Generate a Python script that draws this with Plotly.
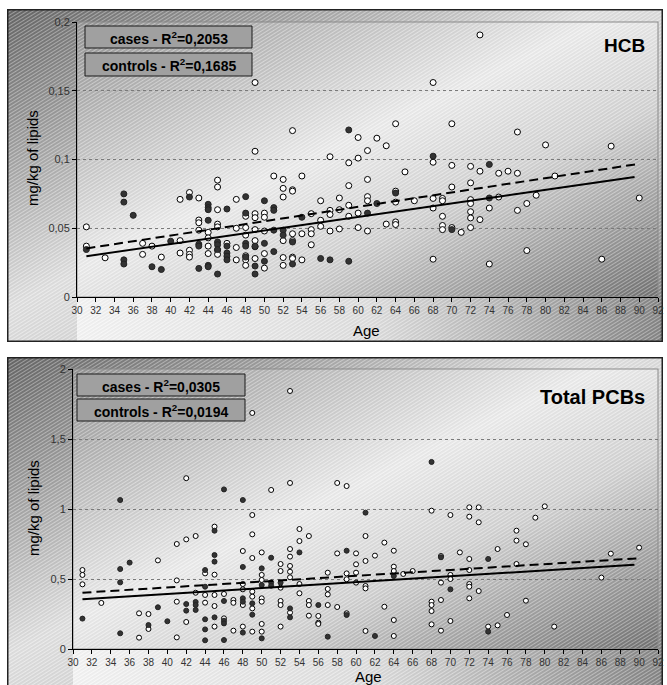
import base64
import plotly.graph_objects as go

# ---------------- data ----------------
ages_tick = list(range(30, 93, 2))

hcb_controls_age = [31, 31, 33, 37, 37, 38, 39, 41, 41, 41, 42, 42, 42, 42, 43, 43, 43, 43,
                    44, 44, 44, 44, 45, 45, 45, 45, 45, 45, 45, 46, 47, 47, 47, 47,
                    48, 48, 48, 48, 48, 48, 49, 49, 49, 49, 49, 49, 49, 49, 50, 50, 50, 50, 50,
                    51, 52, 52, 52, 52, 52, 52, 53, 53, 53, 53, 53, 53, 53, 54, 54, 54,
                    55, 55, 55, 55, 56, 56, 56, 57, 57, 57, 57, 58, 58, 58, 59, 59, 59, 59,
                    60, 60, 60, 60, 61, 61, 61, 61, 61, 62, 63, 63, 64, 64, 64, 64, 64, 65, 66,
                    68, 68, 68, 68, 68, 69, 69, 69, 69, 69, 70, 70, 70, 70, 71,
                    72, 72, 72, 72, 72, 72, 72, 73, 73, 73, 74, 74, 75, 75, 76, 77, 77, 77,
                    78, 78, 79, 80, 81, 86, 87, 90]
hcb_controls_val = [0.051, 0.037, 0.0285, 0.039, 0.031, 0.037, 0.029, 0.071, 0.041, 0.032,
                    0.076, 0.034, 0.031, 0.029, 0.072, 0.056, 0.054, 0.0486,
                    0.047, 0.043, 0.037, 0.0316, 0.085, 0.080, 0.0635, 0.053, 0.051, 0.034, 0.031,
                    0.039, 0.071, 0.050, 0.036, 0.027,
                    0.0587, 0.0505, 0.045, 0.030, 0.027, 0.023,
                    0.156, 0.106, 0.0606, 0.0577, 0.049, 0.041, 0.0365, 0.028,
                    0.061, 0.058, 0.048, 0.0316, 0.021,
                    0.088, 0.0855, 0.079, 0.0727, 0.041, 0.0287, 0.023,
                    0.121, 0.078, 0.077, 0.046, 0.041, 0.029, 0.028, 0.088, 0.046, 0.027,
                    0.0606, 0.049, 0.046, 0.038, 0.070, 0.0558, 0.0514, 0.102, 0.063, 0.060, 0.048,
                    0.072, 0.0635, 0.0495, 0.0976, 0.081, 0.0667, 0.0587,
                    0.116, 0.101, 0.061, 0.0505, 0.1065, 0.0855, 0.073, 0.070, 0.048,
                    0.1155, 0.110, 0.053, 0.126, 0.077, 0.069, 0.0546, 0.0527, 0.091, 0.070,
                    0.156, 0.098, 0.0717, 0.0647, 0.0275, 0.0717, 0.070, 0.0587, 0.052, 0.049,
                    0.126, 0.0957, 0.080, 0.0505, 0.047,
                    0.095, 0.083, 0.0708, 0.068, 0.062, 0.0575, 0.0505, 0.1906, 0.0915, 0.0563,
                    0.0647, 0.024, 0.090, 0.0727, 0.0915, 0.120, 0.090, 0.063,
                    0.068, 0.0338, 0.074, 0.1106, 0.088, 0.0275, 0.1097, 0.072]

hcb_cases_age = [31, 35, 35, 35, 35, 36, 38, 39, 40, 42, 43, 43, 43,
                 44, 44, 44, 44, 44, 44, 45, 45, 45, 45, 46, 46, 46, 46, 46,
                 48, 48, 48, 48, 48, 49, 49, 49, 50, 50, 50, 51, 51, 51, 51, 52, 52,
                 53, 53, 54, 56, 57, 59, 59, 61, 62, 64, 68, 70, 74, 74]
hcb_cases_val = [0.0345, 0.075, 0.069, 0.027, 0.024, 0.0594, 0.022, 0.020, 0.0406, 0.0727,
                 0.0384, 0.037, 0.0208, 0.0674, 0.065, 0.0635, 0.0558, 0.023, 0.022,
                 0.040, 0.038, 0.0345, 0.0167, 0.064, 0.037, 0.032, 0.0297, 0.027,
                 0.073, 0.061, 0.039, 0.037, 0.029, 0.037, 0.0225, 0.0167, 0.070, 0.039, 0.026,
                 0.065, 0.063, 0.0486, 0.033, 0.0486, 0.045, 0.040, 0.024, 0.058, 0.028, 0.027,
                 0.1215, 0.026, 0.061, 0.068, 0.0756, 0.1024, 0.049, 0.0964, 0.072]

pcb_controls_age = [31, 31, 31, 33, 37, 37, 38, 38, 39, 41, 41, 41, 41, 42, 42, 42, 43, 43,
                    44, 44, 44, 45, 45, 45, 45, 45, 46, 46, 47, 47, 47, 48, 48, 48, 48, 48,
                    49, 49, 49, 49, 49, 49, 49, 49, 50, 50, 50, 50, 50, 50, 50, 51,
                    52, 52, 52, 52, 52, 52, 53, 53, 53, 53, 53, 53, 53, 53, 54, 54, 54, 54,
                    55, 55, 55, 55, 56, 56, 56, 57, 57, 57, 57, 58, 58, 58, 59, 59, 59, 59,
                    60, 60, 60, 60, 61, 61, 61, 61, 61, 62, 63, 63, 64, 64, 64, 64, 64, 65, 66,
                    68, 68, 68, 68, 68, 69, 69, 69, 69, 70, 70, 70, 70, 71,
                    72, 72, 72, 72, 72, 72, 72, 73, 73, 73, 74, 75, 75, 76, 77, 77, 77,
                    78, 78, 79, 80, 81, 86, 87, 90]
pcb_controls_val = [0.564, 0.529, 0.462, 0.329, 0.255, 0.081, 0.25, 0.143, 0.633,
                    0.75, 0.49, 0.338, 0.083, 1.22, 0.783, 0.193, 0.807, 0.402,
                    0.54, 0.386, 0.331, 0.874, 0.531, 0.386, 0.307, 0.160, 0.393, 0.219,
                    0.35, 0.33, 0.131, 0.70, 0.464, 0.426, 0.314, 0.16,
                    1.686, 0.957, 0.819, 0.65, 0.41, 0.374, 0.29, 0.124,
                    0.69, 0.529, 0.493, 0.362, 0.338, 0.179, 0.124, 1.136,
                    0.607, 0.557, 0.438, 0.343, 0.314, 0.16,
                    1.843, 1.186, 0.714, 0.66, 0.593, 0.552, 0.512, 0.26,
                    0.857, 0.771, 0.464, 0.398, 0.807, 0.343, 0.314, 0.238,
                    0.236, 0.188, 0.179, 0.545, 0.429, 0.39, 0.314, 1.186, 0.683, 0.30,
                    1.164, 0.54, 0.498, 0.255, 0.683, 0.605, 0.545, 0.474,
                    0.807, 0.629, 0.45, 0.433, 0.129, 0.667, 0.76, 0.302,
                    0.702, 0.588, 0.557, 0.207, 0.093, 0.536, 0.557,
                    0.988, 0.338, 0.314, 0.271, 0.176, 0.664, 0.474, 0.35, 0.131,
                    0.957, 0.529, 0.5, 0.2, 0.69,
                    1.012, 0.945, 0.643, 0.564, 0.464, 0.445, 0.362, 1.012, 0.905, 0.414,
                    0.16, 0.714, 0.169, 0.243, 0.845, 0.774, 0.607,
                    0.748, 0.345, 0.938, 1.019, 0.16, 0.51, 0.681, 0.724]

pcb_cases_age = [31, 35, 35, 35, 35, 36, 38, 39, 40, 42, 42, 43, 43, 43,
                 44, 44, 44, 44, 44, 45, 45, 45, 45, 46, 46, 46, 46, 46,
                 48, 48, 48, 48, 48, 49, 49, 50, 50, 50, 51, 51, 51, 52, 53, 53, 54,
                 56, 57, 59, 59, 61, 62, 64, 68, 69, 70, 74, 74]
pcb_cases_val = [0.217, 1.064, 0.571, 0.476, 0.112, 0.617, 0.171, 0.298, 0.198, 0.321, 0.274,
                 0.336, 0.314, 0.279, 0.564, 0.445, 0.212, 0.140, 0.062,
                 0.845, 0.671, 0.624, 0.226, 1.14, 0.343, 0.202, 0.183, 0.064,
                 1.064, 0.586, 0.362, 0.338, 0.117, 0.326, 0.245, 0.576, 0.457, 0.076,
                 0.652, 0.476, 0.452, 0.474, 0.29, 0.226, 0.69,
                 0.314, 0.088, 0.702, 0.243, 0.974, 0.093, 0.521, 1.336, 0.655, 0.426,
                 0.643, 0.124]

# regression lines (end points)
fit_solid_age = [31, 89.5]
fit_dashed_age = [31, 90]
hcb_fit_solid = [0.0297, 0.0872]
hcb_fit_dashed = [0.0353, 0.0969]
pcb_fit_solid = [0.355, 0.602]
pcb_fit_dashed = [0.402, 0.648]

hcb_yticks = [0, 0.05, 0.1, 0.15, 0.2]
hcb_yticktext = ["0", "0,05", "0,1", "0,15", "0,2"]
pcb_yticks = [0, 0.5, 1, 1.5, 2]
pcb_yticktext = ["0", "0,5", "1", "1,5", "2"]

hcb_labels = ["cases - R<sup>2</sup>=0,2053", "controls - R<sup>2</sup>=0,1685"]
pcb_labels = ["cases - R<sup>2</sup>=0,0305", "controls - R<sup>2</sup>=0,0194"]

# ---------------- layout helpers ----------------
W, H = 667, 685
FONT = "Liberation Sans, Arial, sans-serif"


def px(x):
    return x / W


def py(y):
    return 1 - y / H


def panel_svg(w, h, pl, pt, pr, pb):
    svg = f"""<svg xmlns='http://www.w3.org/2000/svg' width='{w}' height='{h}' viewBox='0 0 {w} {h}'>
<defs>
<linearGradient id='o' x1='0' y1='0' x2='1' y2='1'>
<stop offset='0' stop-color='#666666'/><stop offset='0.45' stop-color='#e2e2e2'/>
<stop offset='0.7' stop-color='#cccccc'/><stop offset='1' stop-color='#747474'/></linearGradient>
<linearGradient id='p' x1='0' y1='0' x2='1' y2='1'>
<stop offset='0' stop-color='#959595'/><stop offset='0.45' stop-color='#eeeeee'/>
<stop offset='0.65' stop-color='#d4d4d4'/><stop offset='1' stop-color='#727272'/></linearGradient>
<linearGradient id='b' x1='0' y1='0' x2='1' y2='0'>
<stop offset='0' stop-color='#f6f6f6'/><stop offset='0.5' stop-color='#e0e0e0'/>
<stop offset='1' stop-color='#868686'/></linearGradient>
<pattern id='h' width='3' height='3' patternUnits='userSpaceOnUse' patternTransform='rotate(-32)'>
<rect width='3' height='1' fill='#ffffff' fill-opacity='0.35'/>
<rect y='1.5' width='3' height='0.8' fill='#000000' fill-opacity='0.07'/></pattern>
</defs>
<rect x='0' y='0' width='{w}' height='{h}' fill='url(#o)'/>
<rect x='{pl}' y='{pb}' width='{w - pl - 3}' height='{h - pb - 1}' fill='url(#b)'/>
<rect x='{pl}' y='{pt}' width='{pr - pl}' height='{pb - pt}' fill='url(#p)'/>
<rect x='0' y='0' width='{w}' height='{h}' fill='url(#h)'/>
<rect x='{pl}' y='{pt}' width='{pr - pl}' height='{pb - pt}' fill='none' stroke='#8a8a8a' stroke-width='1'/>
<rect x='0.75' y='0.75' width='{w - 1.5}' height='{h - 1.5}' fill='none' stroke='#222' stroke-width='1.5'/>
</svg>"""
    return "data:image/svg+xml;base64," + base64.b64encode(svg.encode()).decode()


fig = go.Figure()

panels = [
    dict(xa="x", ya="y", ca=hcb_cases_age, cv=hcb_cases_val, oa=hcb_controls_age, ov=hcb_controls_val,
         fs=hcb_fit_solid, fd=hcb_fit_dashed, size=6),
    dict(xa="x2", ya="y2", ca=pcb_cases_age, cv=pcb_cases_val, oa=pcb_controls_age, ov=pcb_controls_val,
         fs=pcb_fit_solid, fd=pcb_fit_dashed, size=5),
]
for p in panels:
    fig.add_trace(go.Scatter(x=p["oa"], y=p["ov"], mode="markers", xaxis=p["xa"], yaxis=p["ya"],
                             marker=dict(size=p["size"], color="white", line=dict(color="black", width=1)),
                             showlegend=False))
    fig.add_trace(go.Scatter(x=p["ca"], y=p["cv"], mode="markers", xaxis=p["xa"], yaxis=p["ya"],
                             marker=dict(size=p["size"], color="#333333", line=dict(color="#222222", width=1)),
                             showlegend=False))
    fig.add_trace(go.Scatter(x=fit_dashed_age, y=p["fd"], mode="lines", xaxis=p["xa"], yaxis=p["ya"],
                             line=dict(color="black", width=2, dash="9px,5px"), showlegend=False))
    fig.add_trace(go.Scatter(x=fit_solid_age, y=p["fs"], mode="lines", xaxis=p["xa"], yaxis=p["ya"],
                             line=dict(color="black", width=2), showlegend=False))

xcommon = dict(range=[30, 92], tickvals=ages_tick, showline=True, linecolor="black", linewidth=1,
               ticks="outside", ticklen=4, tickcolor="black", showgrid=False, zeroline=False,
               automargin=False, tickfont=dict(family=FONT, size=10, color="#333"))
ycommon = dict(showline=True, linecolor="black", linewidth=1, ticks="outside", ticklen=4,
               tickcolor="black", showgrid=True, gridcolor="#7a7a7a", griddash="dot", gridwidth=1,
               zeroline=False, automargin=False, tickfont=dict(family=FONT, size=11, color="#333"))

fig.update_layout(
    width=W, height=H, margin=dict(l=0, r=0, t=0, b=0),
    paper_bgcolor="white", plot_bgcolor="rgba(0,0,0,0)",
    xaxis=dict(domain=[px(77), px(658)], anchor="y", **xcommon),
    yaxis=dict(domain=[py(297), py(22)], anchor="x", range=[0, 0.2], tickvals=hcb_yticks,
               ticktext=hcb_yticktext, **ycommon),
    xaxis2=dict(domain=[px(73), px(658)], anchor="y2", **xcommon),
    yaxis2=dict(domain=[py(649), py(369)], anchor="x2", range=[0, 2], tickvals=pcb_yticks,
                ticktext=pcb_yticktext, **ycommon),
    images=[
        dict(source=panel_svg(656, 333, 70, 13, 651, 288), xref="paper", yref="paper",
             x=px(7), y=py(9), sizex=656 / W, sizey=333 / H, sizing="stretch",
             xanchor="left", yanchor="top", layer="below"),
        dict(source=panel_svg(656, 330, 66, 12, 651, 292), xref="paper", yref="paper",
             x=px(7), y=py(357), sizex=656 / W, sizey=330 / H, sizing="stretch",
             xanchor="left", yanchor="top", layer="below"),
    ],
)

shapes = []
annotations = []
boxes = [
    (hcb_labels, 85, 252, [(26, 48), (53, 76)]),
    (pcb_labels, 77, 245, [(374, 396), (399, 421)]),
]
for labels, x0, x1, ys in boxes:
    for lab, (y0, y1) in zip(labels, ys):
        shapes.append(dict(type="rect", xref="paper", yref="paper", x0=px(x0), x1=px(x1),
                           y0=py(y1), y1=py(y0), fillcolor="#a0a0a0",
                           line=dict(color="#1a1a1a", width=1), layer="above"))
        annotations.append(dict(text=f"<b>{lab}</b>", xref="paper", yref="paper",
                                x=px((x0 + x1) / 2), y=py((y0 + y1) / 2 + 1), showarrow=False,
                                font=dict(family=FONT, size=14, color="black"),
                                xanchor="center", yanchor="middle"))

annotations += [
    dict(text="<b>HCB</b>", xref="paper", yref="paper", x=px(647), y=py(46), xanchor="right",
         yanchor="middle", showarrow=False, font=dict(family=FONT, size=19, color="black")),
    dict(text="<b>Total PCBs</b>", xref="paper", yref="paper", x=px(647), y=py(397), xanchor="right",
         yanchor="middle", showarrow=False, font=dict(family=FONT, size=20, color="black")),
    dict(text="mg/kg of lipids", xref="paper", yref="paper", x=px(33), y=py(158), textangle=-90,
         xanchor="center", yanchor="middle", showarrow=False,
         font=dict(family=FONT, size=15, color="black")),
    dict(text="mg/kg of lipids", xref="paper", yref="paper", x=px(33), y=py(508), textangle=-90,
         xanchor="center", yanchor="middle", showarrow=False,
         font=dict(family=FONT, size=15, color="black")),
    dict(text="Age", xref="paper", yref="paper", x=px(366), y=py(330), showarrow=False,
         xanchor="center", yanchor="middle", borderpad=0,
         font=dict(family=FONT, size=15, color="black")),
    dict(text="Age", xref="paper", yref="paper", x=px(368), y=py(676), showarrow=False,
         xanchor="center", yanchor="middle", borderpad=0,
         font=dict(family=FONT, size=15, color="black")),
]
fig.update_layout(shapes=shapes, annotations=annotations)

fig.write_html("out.html", config={"displayModeBar": False},
               post_script="document.body.style.margin='0';document.body.style.overflow='hidden';")
